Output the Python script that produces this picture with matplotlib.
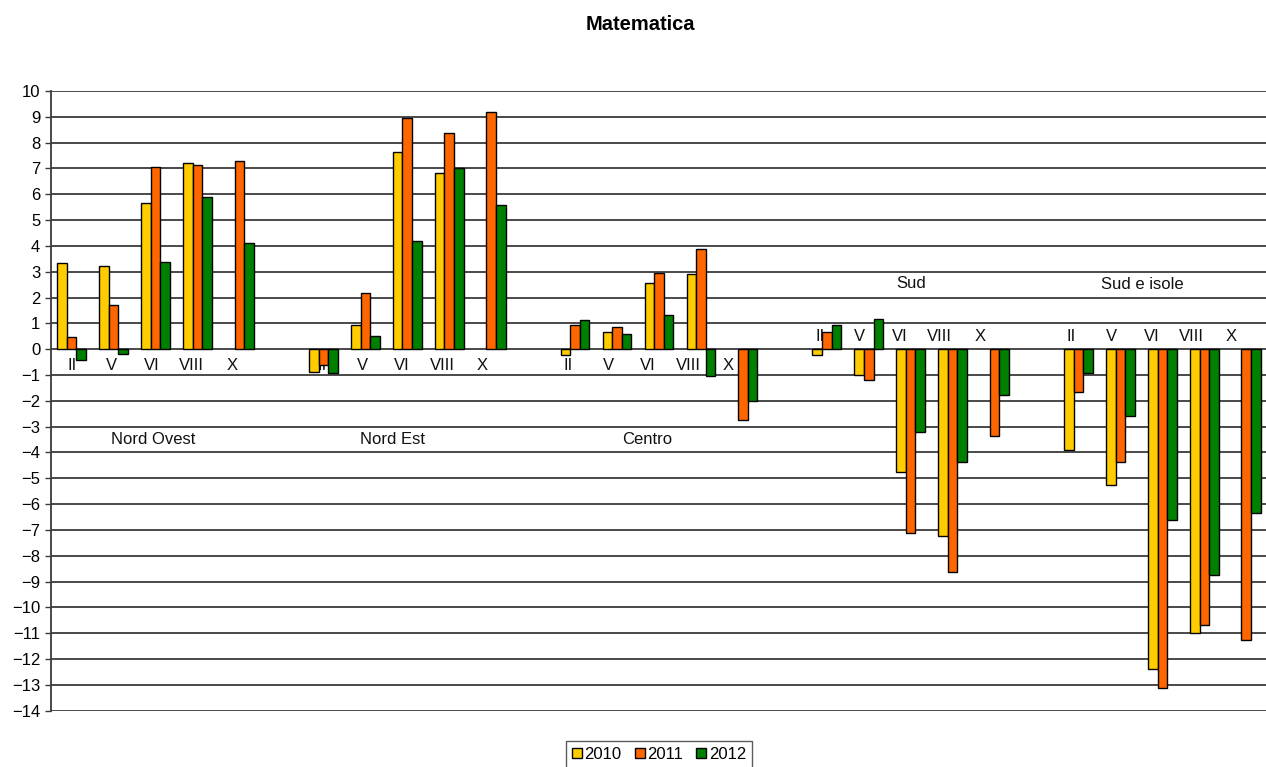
import numpy as np
import matplotlib
matplotlib.use('Agg')
from matplotlib import pyplot as plt

plt.rcParams['font.family'] = ['Liberation Sans', 'DejaVu Sans']

regions = ['Nord Ovest', 'Nord Est', 'Centro', 'Sud', 'Sud e isole']
grades = ['II', 'V', 'VI', 'VIII', 'X']
years = ['2010', '2011', '2012']

nan = np.nan
# valori per regione (5 classi ciascuna)
v2010 = [3.33, 3.22, 5.68, 7.23, nan,
         -0.88, 0.95, 7.64, 6.81, nan,
         -0.22, 0.66, 2.55, 2.92, nan,
         -0.22, -0.99, -4.74, -7.25, nan,
         -3.91, -5.25, -12.39, -10.98, nan]
v2011 = [0.49, 1.73, 7.07, 7.12, 7.29,
         -0.60, 2.19, 8.97, 8.36, 9.18,
         0.95, 0.85, 2.97, 3.88, -2.75,
         0.66, -1.19, -7.10, -8.61, -3.36,
         -1.65, -4.38, -13.11, -10.70, -11.27]
v2012 = [-0.41, -0.18, 3.38, 5.90, 4.10,
         -0.93, 0.50, 4.19, 7.02, 5.57,
         1.12, 0.59, 1.32, -1.03, -2.01,
         0.94, 1.16, -3.20, -4.38, -1.76,
         -0.93, -2.57, -6.63, -8.75, -6.34]

colors = ['#FFCC00', '#FF6600', '#008000']

# layout delle etichette (posizionate a mano nell'originale)
region_label_dx = [1.94, 1.64, 1.71, 2.0, 1.51]
region_label_y = [-3.5, -3.5, -3.5, 2.55, 2.5]
grade_label_y = [-0.64, -0.64, -0.64, 0.48, 0.48]
grade_label_dx = [0.0, -0.03, -0.17, -0.17, -0.17]

W, H = 1266, 767
fig = plt.figure(figsize=(W / 100, H / 100), dpi=100)
left, right, top, bottom = 50.7, 1266, 91, 710.7
ax = fig.add_axes([left / W, (H - bottom) / H, (right - left) / W, (bottom - top) / H])

w = 0.229
n = len(grades)
x = np.array([r * 6 + k for r in range(len(regions)) for k in range(n)], dtype=float)

ax.set_axisbelow(True)
ax.yaxis.grid(True, color='#3a3a3a', linewidth=1.3)

handles = []
for i, vals in enumerate([v2010, v2011, v2012]):
    b = ax.bar(x + (i - 1) * w, vals, width=w, color=colors[i],
               edgecolor='black', linewidth=1.0, label=years[i], zorder=3)
    handles.append(b)

# etichette delle classi
for r in range(len(regions)):
    for k, g in enumerate(grades):
        ax.text(r * 6 + k * 0.955 + grade_label_dx[r], grade_label_y[r], g,
                ha='center', va='center', fontsize=12, color='#111111', zorder=2)
    ax.text(r * 6 + region_label_dx[r], region_label_y[r], regions[r],
            ha='center', va='center', fontsize=12, color='#111111', zorder=2)

ax.set_xlim(-0.5, -0.5 + (right - left) / 41.95)
ax.set_ylim(-14, 10)
ax.set_yticks(range(-14, 11))
ax.set_xticks([])
ax.tick_params(axis='y', length=4.5, width=1, color='#3a3a3a', labelsize=12, pad=3)

for s in ['top', 'right', 'bottom']:
    ax.spines[s].set_visible(False)
ax.spines['left'].set_color('#3a3a3a')
ax.spines['left'].set_linewidth(1.3)

fig.text(640 / W, 1 - 25 / H, 'Matematica', ha='center', va='center',
         fontsize=14.5, fontweight='bold')

leg = fig.legend(handles=handles, loc='upper center',
                 bbox_to_anchor=(659 / W, 1 - 741 / H), ncol=3,
                 fontsize=12, frameon=True, fancybox=False,
                 handlelength=0.6, handleheight=0.6, handletextpad=0.15,
                 columnspacing=0.8, borderpad=0.35, borderaxespad=0)
leg.get_frame().set_edgecolor('#333333')
leg.get_frame().set_linewidth(1)

fig.savefig('out.png', dpi=100)
